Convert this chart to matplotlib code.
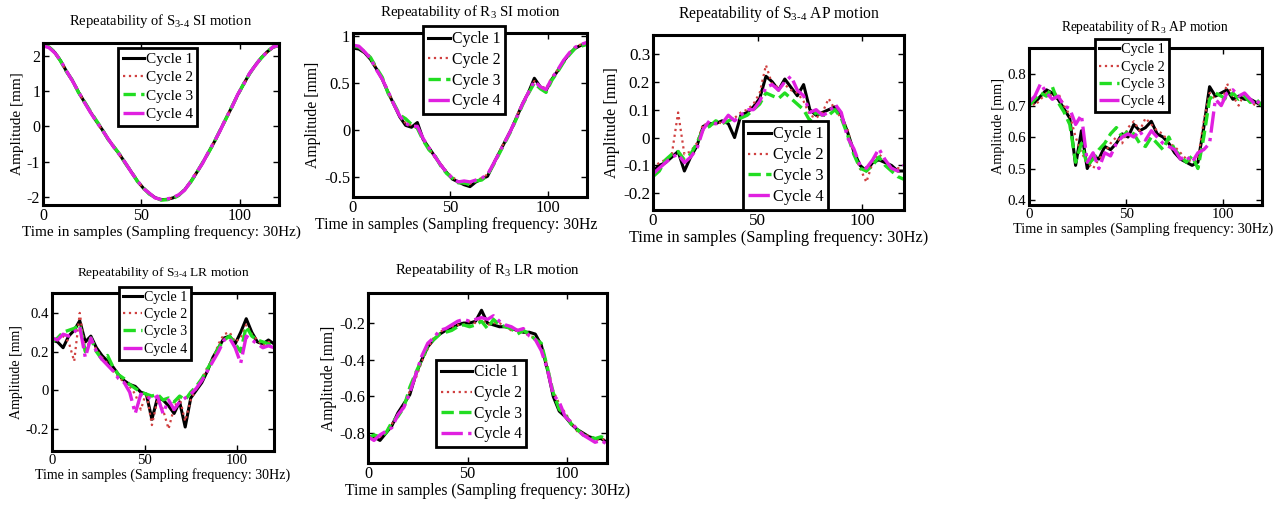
import numpy as np
import matplotlib
matplotlib.use('Agg')
import matplotlib.pyplot as plt
from matplotlib.ticker import FormatStrFormatter

plt.rcParams['font.family'] = ['Liberation Serif', 'DejaVu Serif']
plt.rcParams['mathtext.fontset'] = 'custom'
plt.rcParams['mathtext.rm'] = 'Liberation Serif'
plt.rcParams['mathtext.it'] = 'Liberation Serif:italic'
plt.rcParams['axes.unicode_minus'] = False

# sample index (every 3rd sample, 30 Hz)
samples = list(range(0, 121, 3))

# S3-4 SI motion
s34_si_c1 = [2.30, 2.25, 2.10, 1.86, 1.56, 1.30, 0.98, 0.70, 0.42, 0.16, -0.08, -0.35, -0.58, -0.80, -1.05, -1.30, -1.55, -1.75, -1.90, -2.02, -2.08,
             -2.07, -2.03, -1.95, -1.80, -1.58, -1.32, -1.05, -0.75, -0.45, -0.12, 0.22, 0.55, 0.90, 1.20, 1.50, 1.74, 1.95, 2.12, 2.25, 2.30]
s34_si_c2 = [2.28, 2.24, 2.08, 1.84, 1.57, 1.28, 0.99, 0.69, 0.43, 0.14, -0.09, -0.34, -0.59, -0.81, -1.04, -1.31, -1.54, -1.76, -1.91, -2.03, -2.07,
             -2.08, -2.02, -1.94, -1.81, -1.57, -1.31, -1.06, -0.74, -0.44, -0.13, 0.23, 0.54, 0.91, 1.19, 1.51, 1.73, 1.96, 2.11, 2.24, 2.31]
s34_si_c3 = [2.31, 2.26, 2.11, 1.85, 1.55, 1.31, 0.97, 0.71, 0.44, 0.18, -0.07, -0.36, -0.57, -0.79, -1.06, -1.29, -1.56, -1.74, -1.92, -2.01, -2.09,
             -2.08, -2.05, -1.96, -1.79, -1.59, -1.33, -1.04, -0.76, -0.46, -0.11, 0.21, 0.56, 0.89, 1.21, 1.49, 1.75, 1.94, 2.13, 2.26, 2.29]
s34_si_c4 = [2.29, 2.24, 2.09, 1.87, 1.57, 1.29, 0.99, 0.69, 0.41, 0.15, -0.09, -0.34, -0.59, -0.81, -1.04, -1.31, -1.54, -1.76, -1.89, -2.03, -2.07,
             -2.06, -2.02, -1.94, -1.81, -1.57, -1.31, -1.06, -0.74, -0.44, -0.13, 0.23, 0.54, 0.91, 1.19, 1.51, 1.73, 1.96, 2.11, 2.26, 2.30]

# R3 SI motion
r3_si_c1 = [0.87, 0.86, 0.82, 0.75, 0.65, 0.54, 0.40, 0.27, 0.14, 0.05, 0.03, 0.08, -0.10, -0.19, -0.28, -0.37, -0.45, -0.52, -0.55, -0.58, -0.60,
            -0.55, -0.52, -0.49, -0.36, -0.24, -0.12, 0.00, 0.14, 0.28, 0.40, 0.55, 0.46, 0.42, 0.54, 0.63, 0.73, 0.81, 0.87, 0.90, 0.92]
r3_si_c2 = [0.90, 0.88, 0.82, 0.76, 0.66, 0.55, 0.41, 0.26, 0.16, 0.07, 0.05, 0.02, -0.09, -0.20, -0.29, -0.36, -0.44, -0.50, -0.54, -0.57, -0.57,
            -0.53, -0.51, -0.47, -0.35, -0.23, -0.11, 0.01, 0.15, 0.29, 0.41, 0.52, 0.47, 0.44, 0.56, 0.64, 0.74, 0.82, 0.88, 0.91, 0.93]
r3_si_c3 = [0.89, 0.88, 0.83, 0.77, 0.66, 0.56, 0.39, 0.28, 0.16, 0.12, 0.06, 0.02, -0.11, -0.21, -0.27, -0.38, -0.46, -0.51, -0.56, -0.56, -0.58,
            -0.54, -0.53, -0.48, -0.37, -0.25, -0.13, -0.01, 0.13, 0.27, 0.39, 0.50, 0.44, 0.40, 0.53, 0.62, 0.72, 0.80, 0.87, 0.89, 0.91]
r3_si_c4 = [0.90, 0.89, 0.83, 0.76, 0.64, 0.54, 0.41, 0.27, 0.15, 0.07, 0.04, 0.04, -0.09, -0.19, -0.28, -0.37, -0.45, -0.51, -0.55, -0.54, -0.55,
            -0.53, -0.51, -0.47, -0.36, -0.24, -0.12, 0.00, 0.14, 0.28, 0.40, 0.52, 0.46, 0.43, 0.55, 0.64, 0.74, 0.82, 0.88, 0.91, 0.93]

# S3-4 AP motion
s34_ap_c1 = [-0.12, -0.10, -0.09, -0.07, -0.05, -0.12, -0.07, -0.03, 0.04, 0.05, 0.05, 0.06, 0.05, 0.00, 0.08, 0.09, 0.11, 0.14, 0.22, 0.20, 0.17,
             0.21, 0.18, 0.15, 0.19, 0.10, 0.08, 0.09, 0.10, 0.11, 0.08, 0.02, -0.05, -0.10, -0.12, -0.09, -0.08, -0.09, -0.10, -0.12, -0.12]
s34_ap_c2 = [-0.11, -0.09, -0.08, -0.06, 0.09, -0.06, -0.05, -0.02, 0.05, 0.04, 0.06, 0.05, 0.06, 0.07, 0.09, 0.10, 0.12, 0.16, 0.26, 0.19, 0.18,
             0.19, 0.17, 0.16, 0.13, 0.08, 0.07, 0.09, 0.14, 0.10, 0.07, 0.03, -0.06, -0.11, -0.16, -0.09, -0.06, -0.08, -0.11, -0.11, -0.11]
s34_ap_c3 = [-0.14, -0.12, -0.08, -0.06, -0.05, -0.08, -0.06, -0.02, 0.03, 0.04, 0.06, 0.05, 0.06, 0.07, 0.07, 0.08, 0.10, 0.12, 0.16, 0.15, 0.14,
             0.16, 0.14, 0.12, 0.10, 0.06, 0.09, 0.08, 0.08, 0.10, 0.07, 0.01, -0.06, -0.11, -0.12, -0.10, -0.07, -0.10, -0.12, -0.14, -0.15]
s34_ap_c4 = [-0.13, -0.11, -0.09, -0.07, -0.06, -0.09, -0.07, -0.04, 0.03, 0.06, 0.05, 0.05, 0.08, 0.06, 0.08, 0.10, 0.10, 0.13, 0.18, 0.19, 0.17,
             0.20, 0.22, 0.17, 0.15, 0.09, 0.10, 0.08, 0.09, 0.12, 0.09, 0.00, -0.04, -0.10, -0.11, -0.08, -0.04, -0.08, -0.11, -0.12, -0.10]

# R3 AP motion
r3_ap_c1 = [0.71, 0.71, 0.73, 0.75, 0.74, 0.72, 0.69, 0.66, 0.51, 0.62, 0.50, 0.54, 0.53, 0.57, 0.56, 0.58, 0.61, 0.60, 0.64, 0.62, 0.63,
            0.65, 0.61, 0.60, 0.58, 0.55, 0.53, 0.52, 0.51, 0.52, 0.63, 0.76, 0.73, 0.74, 0.75, 0.72, 0.73, 0.72, 0.72, 0.71, 0.70]
r3_ap_c2 = [0.72, 0.70, 0.72, 0.74, 0.73, 0.74, 0.70, 0.67, 0.60, 0.55, 0.52, 0.50, 0.53, 0.55, 0.58, 0.60, 0.58, 0.63, 0.65, 0.62, 0.66,
            0.64, 0.62, 0.61, 0.58, 0.57, 0.55, 0.53, 0.52, 0.53, 0.65, 0.74, 0.72, 0.70, 0.77, 0.73, 0.70, 0.74, 0.71, 0.70, 0.71]
r3_ap_c3 = [0.70, 0.72, 0.74, 0.73, 0.76, 0.71, 0.68, 0.64, 0.52, 0.58, 0.51, 0.53, 0.56, 0.58, 0.61, 0.63, 0.60, 0.62, 0.61, 0.58, 0.57,
            0.60, 0.58, 0.56, 0.60, 0.56, 0.54, 0.52, 0.54, 0.50, 0.60, 0.72, 0.74, 0.73, 0.72, 0.74, 0.72, 0.73, 0.71, 0.72, 0.70]
r3_ap_c4 = [0.71, 0.73, 0.77, 0.74, 0.72, 0.73, 0.70, 0.69, 0.64, 0.67, 0.52, 0.55, 0.50, 0.55, 0.54, 0.58, 0.60, 0.61, 0.60, 0.62, 0.59,
            0.62, 0.60, 0.58, 0.57, 0.56, 0.53, 0.54, 0.52, 0.55, 0.56, 0.58, 0.72, 0.70, 0.74, 0.75, 0.73, 0.74, 0.72, 0.70, 0.73]

# S3-4 LR motion
s34_lr_c1 = [0.26, 0.25, 0.22, 0.28, 0.31, 0.36, 0.25, 0.28, 0.22, 0.18, 0.15, 0.12, 0.08, 0.05, 0.03, 0.02, -0.01, -0.02, -0.15, -0.04, -0.05,
             -0.08, -0.12, -0.06, -0.19, -0.04, 0.00, 0.04, 0.10, 0.17, 0.22, 0.27, 0.28, 0.24, 0.30, 0.37, 0.30, 0.25, 0.24, 0.26, 0.24]
s34_lr_c2 = [0.27, 0.26, 0.28, 0.25, 0.15, 0.40, 0.20, 0.27, 0.21, 0.17, 0.14, 0.10, 0.07, 0.04, 0.02, -0.02, -0.10, -0.01, -0.18, -0.05, -0.10,
             -0.20, -0.09, -0.04, -0.16, -0.05, 0.01, 0.05, 0.12, 0.16, 0.24, 0.29, 0.30, 0.25, 0.27, 0.34, 0.29, 0.26, 0.23, 0.25, 0.24]
s34_lr_c3 = [0.25, 0.27, 0.30, 0.31, 0.32, 0.34, 0.20, 0.27, 0.20, 0.16, 0.18, 0.12, 0.08, 0.06, 0.03, 0.01, -0.01, -0.02, -0.03, -0.02, -0.05,
             -0.04, -0.06, -0.03, -0.05, -0.01, 0.02, 0.06, 0.11, 0.16, 0.22, 0.26, 0.28, 0.24, 0.20, 0.33, 0.28, 0.26, 0.25, 0.24, 0.23]
s34_lr_c4 = [0.27, 0.26, 0.29, 0.28, 0.30, 0.33, 0.17, 0.27, 0.20, 0.16, 0.13, 0.10, 0.06, 0.04, -0.01, -0.12, -0.02, -0.03, -0.05, -0.03, -0.12,
             -0.05, -0.10, -0.06, -0.04, -0.02, 0.01, 0.05, 0.10, 0.15, 0.20, 0.26, 0.27, 0.22, 0.14, 0.28, 0.26, 0.24, 0.22, 0.23, 0.22]

# R3 LR motion
r3_lr_c1 = [-0.82, -0.82, -0.84, -0.80, -0.76, -0.69, -0.64, -0.59, -0.48, -0.40, -0.33, -0.29, -0.26, -0.24, -0.23, -0.21, -0.20, -0.20, -0.19, -0.13, -0.20,
            -0.21, -0.22, -0.22, -0.23, -0.24, -0.25, -0.25, -0.26, -0.32, -0.45, -0.60, -0.68, -0.71, -0.75, -0.78, -0.80, -0.82, -0.83, -0.83, -0.85]
r3_lr_c2 = [-0.83, -0.83, -0.82, -0.79, -0.75, -0.70, -0.65, -0.57, -0.50, -0.41, -0.34, -0.28, -0.25, -0.23, -0.22, -0.21, -0.21, -0.19, -0.20, -0.18, -0.21,
            -0.20, -0.20, -0.22, -0.24, -0.24, -0.25, -0.27, -0.28, -0.33, -0.43, -0.57, -0.64, -0.69, -0.74, -0.79, -0.80, -0.82, -0.84, -0.83, -0.84]
r3_lr_c3 = [-0.83, -0.81, -0.82, -0.80, -0.74, -0.71, -0.66, -0.55, -0.47, -0.40, -0.32, -0.29, -0.26, -0.25, -0.24, -0.22, -0.21, -0.22, -0.21, -0.19, -0.23,
            -0.18, -0.21, -0.22, -0.23, -0.26, -0.24, -0.26, -0.29, -0.31, -0.44, -0.58, -0.67, -0.70, -0.75, -0.78, -0.81, -0.82, -0.83, -0.82, -0.83]
r3_lr_c4 = [-0.82, -0.84, -0.81, -0.79, -0.77, -0.70, -0.66, -0.58, -0.48, -0.38, -0.31, -0.28, -0.24, -0.23, -0.21, -0.19, -0.18, -0.19, -0.18, -0.17, -0.18,
            -0.16, -0.19, -0.21, -0.22, -0.24, -0.23, -0.27, -0.29, -0.35, -0.45, -0.59, -0.63, -0.71, -0.74, -0.78, -0.81, -0.83, -0.85, -0.84, -0.86]

cycle_labels = ['Cycle 1', 'Cycle 2', 'Cycle 3', 'Cycle 4']
cycle_labels_lr = ['Cicle 1', 'Cycle 2', 'Cycle 3', 'Cycle 4']

xlab = 'Time in samples (Sampling frequency: 30Hz)'

W, H = 1281, 505
fig = plt.figure(figsize=(W / 100, H / 100), dpi=100)


def px_box(l, r, t, b):
    return [l / W, 1 - b / H, (r - l) / W, (b - t) / H]


styles = [dict(color='black', ls='-', lw=2.2),
          dict(color='#d04040', ls=':', lw=1.6),
          dict(color='#22dd22', ls='--', lw=2.4),
          dict(color='#e020e0', ls='-.', lw=2.4)]

# title, axes box (px), ylim, yticks, series, legend loc, legend anchor, labels, xlabel, font scale, title pad, xlabel x
panels = [
    ('Repeatability of S$_{3\\text{-}4}$ SI motion', (43, 279, 43, 205), (-2.23, 2.37), [-2, -1, 0, 1, 2],
     [s34_si_c1, s34_si_c2, s34_si_c3, s34_si_c4], 'upper left', (0.318, 0.97), cycle_labels, xlab, 1.0, 13, 0.5),
    ('Repeatability of R$_3$ SI motion', (353, 587, 33, 197), (-0.71, 1.03), [-0.5, 0, 0.5, 1],
     [r3_si_c1, r3_si_c2, r3_si_c3, r3_si_c4], 'upper left', (0.30, 1.04), cycle_labels, xlab[:-1], 1.03, 12, 0.44),
    ('Repeatability of S$_{3\\text{-}4}$ AP motion', (653, 904, 35, 210), (-0.26, 0.368), [-0.2, -0.1, 0, 0.1, 0.2, 0.3],
     [s34_ap_c1, s34_ap_c2, s34_ap_c3, s34_ap_c4], 'lower left', (0.36, 0.0), cycle_labels, xlab, 1.07, 12, 0.5),
    ('Repeatability of R$_3$ AP motion', (1029, 1262, 48, 205), (0.384, 0.883), [0.4, 0.5, 0.6, 0.7, 0.8],
     [r3_ap_c1, r3_ap_c2, r3_ap_c3, r3_ap_c4], 'upper left', (0.283, 1.057), cycle_labels, xlab, 0.93, 12, 0.49),
    ('Repeatability of S$_{3\\text{-}4}$ LR motion', (52, 274, 293, 451), (-0.314, 0.503), [-0.2, 0, 0.2, 0.4],
     [s34_lr_c1, s34_lr_c2, s34_lr_c3, s34_lr_c4], 'upper left', (0.30, 1.04), cycle_labels, xlab, 0.92, 12, 0.5),
    ('Repeatability of R$_3$ LR motion', (368, 607, 293, 463), (-0.963, -0.036), [-0.8, -0.6, -0.4, -0.2],
     [r3_lr_c1, r3_lr_c2, r3_lr_c3, r3_lr_c4], 'lower left', (0.285, 0.094), cycle_labels_lr, xlab, 1.02, 14, 0.5),
]

for i, (title, box, ylim, yticks, cycles, lloc, anchor, labels, xl, s, tpad, xlx) in enumerate(panels):
    ax = fig.add_axes(px_box(*box))
    for vals, st, lab in zip(cycles, styles, labels):
        ax.plot(samples, vals, label=lab, **st)
    ax.set_xlim(0, 120)
    ax.set_ylim(*ylim)
    ax.set_xticks([0, 50, 100])
    ax.set_yticks(yticks)
    ax.yaxis.set_major_formatter(FormatStrFormatter('%g'))
    ax.tick_params(direction='in', top=True, right=True, length=4, width=1, labelsize=11.5 * s, pad=2)
    for sp in ax.spines.values():
        sp.set_linewidth(2.2)
    ax.set_title(title, fontsize=10.5 * s, pad=tpad)
    ax.set_xlabel(xl, fontsize=11 * s, labelpad=1)
    ax.xaxis.label.set_x(xlx)
    ax.set_ylabel('Amplitude [mm]', fontsize=11 * s, labelpad=2)
    hl = 2.0 if i == 5 else 1.4
    leg = ax.legend(loc=lloc, bbox_to_anchor=anchor, fontsize=11 * s, fancybox=False,
                    framealpha=1, edgecolor='black', handlelength=hl, handletextpad=0.1,
                    borderpad=0.3, labelspacing=0.3, borderaxespad=0)
    leg.get_frame().set_linewidth(2)

fig.savefig('out.png', dpi=100)
